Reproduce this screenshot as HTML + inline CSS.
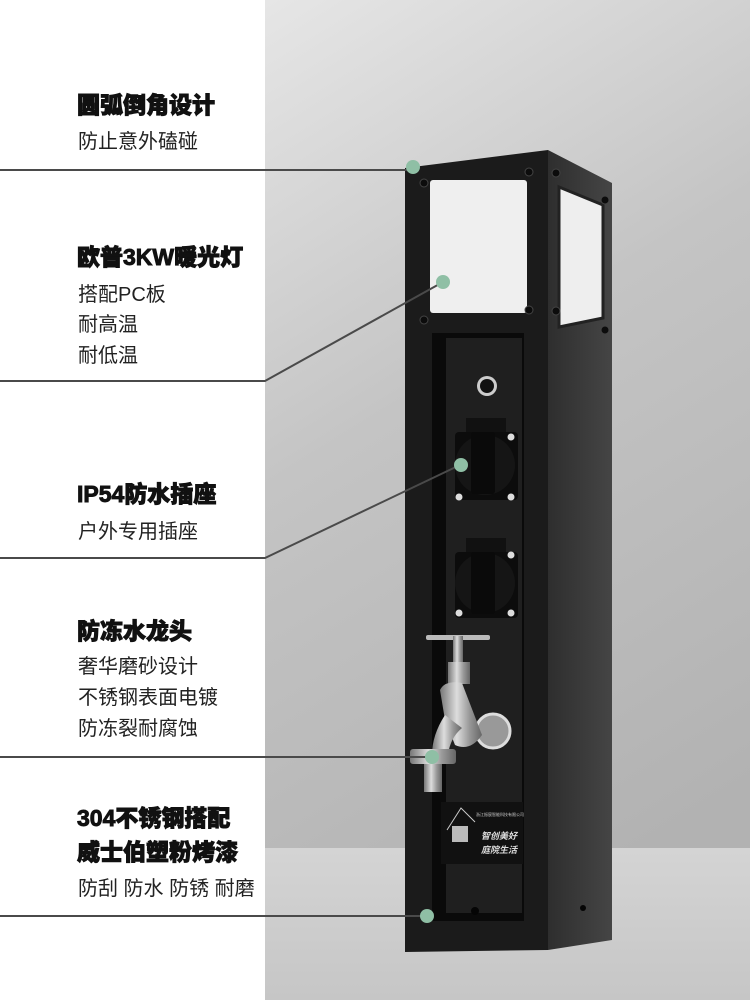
<!DOCTYPE html>
<html><head><meta charset="utf-8"><style>
html,body{margin:0;padding:0;width:750px;height:1000px;overflow:hidden;background:#fff}
svg{display:block}
.h{font-family:"Liberation Sans","Noto Sans CJK SC",sans-serif;font-weight:900;font-size:23px;fill:#111;stroke:#111;stroke-width:0.9}
.s{font-family:"Liberation Sans","Noto Sans CJK SC",sans-serif;font-weight:400;font-size:20px;fill:#222}
</style></head><body>
<svg width="750" height="1000" viewBox="0 0 750 1000" xmlns="http://www.w3.org/2000/svg">
<defs>
<linearGradient id="wall" x1="0" y1="0" x2="0.3" y2="1">
<stop offset="0" stop-color="#e6e6e6"/><stop offset="0.45" stop-color="#c4c4c4"/><stop offset="1" stop-color="#b2b2b2"/>
</linearGradient>
<linearGradient id="floor" x1="0" y1="0" x2="0" y2="1">
<stop offset="0" stop-color="#d4d4d4"/><stop offset="1" stop-color="#c6c6c6"/>
</linearGradient>
<linearGradient id="side" x1="0" y1="0" x2="1" y2="0">
<stop offset="0" stop-color="#2e2e2e"/><stop offset="1" stop-color="#454545"/>
</linearGradient>
<linearGradient id="metal" x1="0" y1="0" x2="1" y2="0">
<stop offset="0" stop-color="#777"/><stop offset="0.4" stop-color="#ddd"/><stop offset="0.7" stop-color="#999"/><stop offset="1" stop-color="#666"/>
</linearGradient>
</defs>
<rect x="265" y="0" width="485" height="1000" fill="url(#wall)"/>
<rect x="265" y="848" width="485" height="152" fill="url(#floor)"/>
<polygon points="548,150 612,183 612,940 548,950" fill="url(#side)"/>
<polygon points="559,187 603,205 603,318 559,327" fill="#eeeeee"/>
<polygon points="559,187 603,205 603,318 559,327" fill="none" stroke="#222" stroke-width="3"/>
<polygon points="405,168 548,150 548,950 405,952" fill="#1b1b1b"/>
<rect x="430" y="180" width="97" height="133" rx="3" fill="#efefef"/>
<g fill="#0c0c0c" stroke="#444" stroke-width="1">
<circle cx="424" cy="183" r="4"/><circle cx="529" cy="172" r="4"/><circle cx="424" cy="320" r="4"/><circle cx="529" cy="310" r="4"/>
<circle cx="556" cy="173" r="4"/><circle cx="605" cy="200" r="4"/><circle cx="556" cy="311" r="4"/><circle cx="605" cy="330" r="4"/>
</g>
<rect x="432" y="333" width="92" height="588" fill="#0a0a0a"/>
<rect x="446" y="338" width="76" height="575" fill="#1f1f1f"/>
<circle cx="487" cy="386" r="10" fill="#ccc"/><circle cx="487" cy="386" r="7" fill="#111"/>
<g>
<rect x="466" y="418" width="40" height="20" fill="#111"/>
<rect x="455" y="432" width="63" height="68" rx="4" fill="#0c0c0c"/>
<circle cx="485" cy="465" r="30" fill="#151515"/>
<rect x="471" y="432" width="24" height="62" rx="3" fill="#0a0a0a"/>
<circle cx="459" cy="497" r="3.5" fill="#ddd"/><circle cx="511" cy="497" r="3.5" fill="#ddd"/><circle cx="511" cy="437" r="3.5" fill="#ddd"/>
</g>
<g>
<rect x="466" y="538" width="40" height="20" fill="#111"/>
<rect x="455" y="552" width="63" height="66" rx="4" fill="#0c0c0c"/>
<circle cx="485" cy="583" r="30" fill="#151515"/>
<rect x="471" y="552" width="24" height="62" rx="3" fill="#0a0a0a"/>
<circle cx="459" cy="613" r="3.5" fill="#ddd"/><circle cx="511" cy="613" r="3.5" fill="#ddd"/><circle cx="511" cy="555" r="3.5" fill="#ddd"/>
</g>
<rect x="426" y="635" width="64" height="5" rx="2" fill="#bbb"/>
<rect x="453" y="636" width="10" height="30" fill="url(#metal)"/>
<rect x="448" y="662" width="22" height="22" fill="url(#metal)"/>
<circle cx="493" cy="731" r="17" fill="#999" stroke="#ddd" stroke-width="3"/>
<path d="M440,690 Q445,680 462,683 L482,735 Q470,752 455,745 L445,720 Z" fill="url(#metal)"/>
<path d="M445,715 Q432,735 432,755 L448,755 Q450,738 462,728 Z" fill="url(#metal)"/>
<rect x="410" y="749" width="46" height="15" rx="3" fill="url(#metal)"/>
<rect x="424" y="764" width="18" height="28" fill="url(#metal)"/>
<rect x="441" y="802" width="82" height="62" fill="#111"/>
<path d="M447,830 L461,808 L475,822" fill="none" stroke="#ccc" stroke-width="1"/>
<rect x="452" y="826" width="16" height="16" fill="#bbb"/>
<text x="476" y="816" font-size="4" fill="#ccc" font-family="Noto Sans CJK SC,sans-serif">浙江振宸智能科技有限公司</text>
<text x="481" y="839" font-size="9" fill="#ddd" font-style="italic" font-weight="bold" font-family="Noto Sans CJK SC,sans-serif">智创美好</text>
<text x="481" y="853" font-size="9" fill="#ddd" font-style="italic" font-weight="bold" font-family="Noto Sans CJK SC,sans-serif">庭院生活</text>
<circle cx="475" cy="911" r="4" fill="#050505"/><circle cx="583" cy="908" r="3" fill="#050505"/>
<g stroke="#4a4a4a" stroke-width="2" fill="none">
<line x1="0" y1="170" x2="412" y2="170"/>
<polyline points="0,381 265,381 443,282"/>
<polyline points="0,558 265,558 460,465"/>
<line x1="0" y1="757" x2="432" y2="757"/>
<line x1="0" y1="916" x2="427" y2="916"/>
</g>
<g fill="#8fbfa5">
<circle cx="413" cy="167" r="7"/><circle cx="443" cy="282" r="7"/><circle cx="461" cy="465" r="7"/><circle cx="432" cy="757" r="7"/><circle cx="427" cy="916" r="7"/>
</g>
<text class="h" x="77" y="113">圆弧倒角设计</text>
<text class="s" x="78" y="148">防止意外磕碰</text>
<text class="h" x="77" y="265">欧普3KW暖光灯</text>
<text class="s" x="78" y="301">搭配PC板</text>
<text class="s" x="78" y="331">耐高温</text>
<text class="s" x="78" y="362">耐低温</text>
<text class="h" x="77" y="502">IP54防水插座</text>
<text class="s" x="78" y="538">户外专用插座</text>
<text class="h" x="77" y="639">防冻水龙头</text>
<text class="s" x="78" y="673">奢华磨砂设计</text>
<text class="s" x="78" y="704">不锈钢表面电镀</text>
<text class="s" x="78" y="735">防冻裂耐腐蚀</text>
<text class="h" x="77" y="826">304不锈钢搭配</text>
<text class="h" x="77" y="860">威士伯塑粉烤漆</text>
<text class="s" x="78" y="895">防刮 防水 防锈 耐磨</text>
</svg>
</body></html>
